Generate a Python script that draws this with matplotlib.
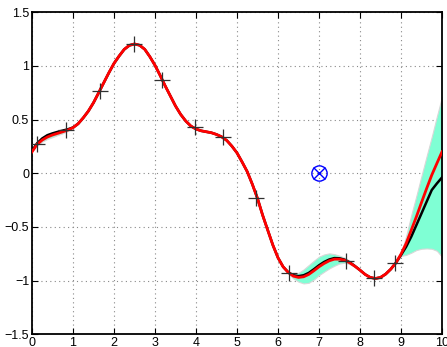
import matplotlib.pyplot as plt
import numpy as np

plt.rcParams['font.family'] = ['Liberation Sans', 'DejaVu Sans']

# curve samples every 0.125 on [0, 10]
xs = np.linspace(0, 10, 81)

true_f = [0.20, 0.27, 0.31, 0.338, 0.357, 0.372, 0.387, 0.403,
          0.425, 0.462, 0.517, 0.58, 0.658, 0.75, 0.844, 0.937,
          1.024, 1.093, 1.155, 1.192, 1.205, 1.193, 1.155, 1.086,
          1.006, 0.912, 0.813, 0.72, 0.627, 0.549, 0.487, 0.44,
          0.412, 0.396, 0.387, 0.378, 0.362, 0.34, 0.306, 0.253,
          0.19, 0.105, 0.015, -0.103, -0.234, -0.39, -0.53, -0.669,
          -0.787, -0.871, -0.924, -0.958, -0.97, -0.964, -0.942, -0.908,
          -0.871, -0.84, -0.815, -0.80, -0.80, -0.81, -0.834, -0.866,
          -0.902, -0.942, -0.97, -0.98, -0.97, -0.939, -0.893, -0.834,
          -0.753, -0.654, -0.53, -0.405, -0.272, -0.142, -0.017, 0.092,
          0.20]

post_mean = [0.21, 0.28, 0.325, 0.355, 0.372, 0.386, 0.398, 0.41,
             0.427, 0.462, 0.517, 0.58, 0.658, 0.75, 0.844, 0.937,
             1.024, 1.093, 1.155, 1.192, 1.205, 1.193, 1.155, 1.086,
             1.006, 0.912, 0.813, 0.72, 0.627, 0.549, 0.487, 0.44,
             0.412, 0.396, 0.387, 0.378, 0.362, 0.34, 0.306, 0.253,
             0.19, 0.105, 0.015, -0.103, -0.234, -0.39, -0.53, -0.669,
             -0.787, -0.871, -0.922, -0.95, -0.958, -0.95, -0.928, -0.894,
             -0.857, -0.826, -0.803, -0.79, -0.792, -0.805, -0.83, -0.864,
             -0.902, -0.942, -0.97, -0.98, -0.97, -0.939, -0.893, -0.834,
             -0.762, -0.685, -0.591, -0.483, -0.374, -0.265, -0.156, -0.095,
             -0.039]

# extent of the shaded band below / above the posterior mean
spread_below = [0.005, 0.02, 0.03, 0.035, 0.035, 0.03, 0.025, 0.015,
                0.005, 0.005, 0.005, 0.005, 0.005, 0.005, 0.005, 0.005,
                0.005, 0.005, 0.005, 0.005, 0.005, 0.005, 0.005, 0.005,
                0.005, 0.005, 0.005, 0.005, 0.005, 0.005, 0.005, 0.005,
                0.005, 0.005, 0.005, 0.005, 0.005, 0.005, 0.005, 0.005,
                0.005, 0.005, 0.005, 0.005, 0.005, 0.005, 0.005, 0.005,
                0.005, 0.005, 0.01, 0.03, 0.052, 0.076, 0.092, 0.096,
                0.092, 0.091, 0.083, 0.071, 0.048, 0.028, 0.016, 0.008,
                0.005, 0.005, 0.005, 0.005, 0.005, 0.005, 0.005, 0.005,
                0.008, 0.075, 0.149, 0.232, 0.329, 0.435, 0.547, 0.627,
                0.739]

spread_above = [0.005, 0.005, 0.005, 0.005, 0.005, 0.005, 0.005, 0.005,
                0.005, 0.005, 0.01, 0.02, 0.02, 0.015, 0.005, 0.005,
                0.005, 0.005, 0.005, 0.005, 0.005, 0.005, 0.005, 0.005,
                0.005, 0.005, 0.005, 0.005, 0.005, 0.005, 0.005, 0.005,
                0.005, 0.005, 0.005, 0.005, 0.005, 0.005, 0.005, 0.005,
                0.005, 0.005, 0.005, 0.005, 0.005, 0.005, 0.005, 0.005,
                0.005, 0.005, 0.005, 0.01, 0.031, 0.054, 0.073, 0.079,
                0.08, 0.07, 0.057, 0.037, 0.024, 0.018, 0.015, 0.008,
                0.005, 0.005, 0.005, 0.005, 0.005, 0.005, 0.005, 0.005,
                0.017, 0.10, 0.201, 0.273, 0.35, 0.425, 0.496, 0.625,
                0.753]

# observations
obs_x = [0.12, 0.82, 1.65, 2.48, 3.18, 3.97, 4.67, 5.46, 6.26, 7.65, 8.34, 8.85]
obs_y = [0.27, 0.40, 0.767, 1.20, 0.87, 0.43, 0.34, -0.23, -0.93, -0.82, -0.98, -0.84]

# next query point
query_x = [7.0]
query_y = [0.0]

mean = np.array(post_mean)
lo = mean - np.array(spread_below)
hi = mean + np.array(spread_above)

fig = plt.figure(figsize=(4.47, 3.47), dpi=100)
ax = fig.add_axes([0.0716, 0.0366, 0.9172, 0.928])

ax.fill_between(xs, lo, hi, facecolor='#7fffd4', edgecolor='#d8d8d8',
                linewidth=0.8, zorder=2)
ax.plot(xs, mean, color='black', linewidth=1.8, zorder=3)
ax.plot(xs, true_f, color='#ff0000', linewidth=2.0, zorder=4)
ax.plot(obs_x, obs_y, '+', color='#303030', markersize=11, markeredgewidth=0.9, zorder=5)
ax.plot(query_x, query_y, 'o', markerfacecolor='none', markeredgecolor='#0000ff',
        markersize=11, markeredgewidth=1.0, zorder=6)
ax.plot(query_x, query_y, 'x', color='#0000ff', markersize=8, markeredgewidth=1.0, zorder=6)

ax.set_xlim(0, 10)
ax.set_ylim(-1.5, 1.5)
ax.set_xticks(range(0, 11))
ax.set_yticks([-1.5, -1, -0.5, 0, 0.5, 1, 1.5])
ax.set_yticklabels(['\u22121.5', '\u22121', '\u22120.5', '0', '0.5', '1', '1.5'])
ax.grid(True, linestyle=(0, (1, 3)), color='#888888', linewidth=0.8)
ax.tick_params(direction='in', top=True, right=True, length=4, width=0.8,
               labelsize=9, pad=2)
for s in ax.spines.values():
    s.set_linewidth(1.3)

fig.savefig('out.png', dpi=100)
